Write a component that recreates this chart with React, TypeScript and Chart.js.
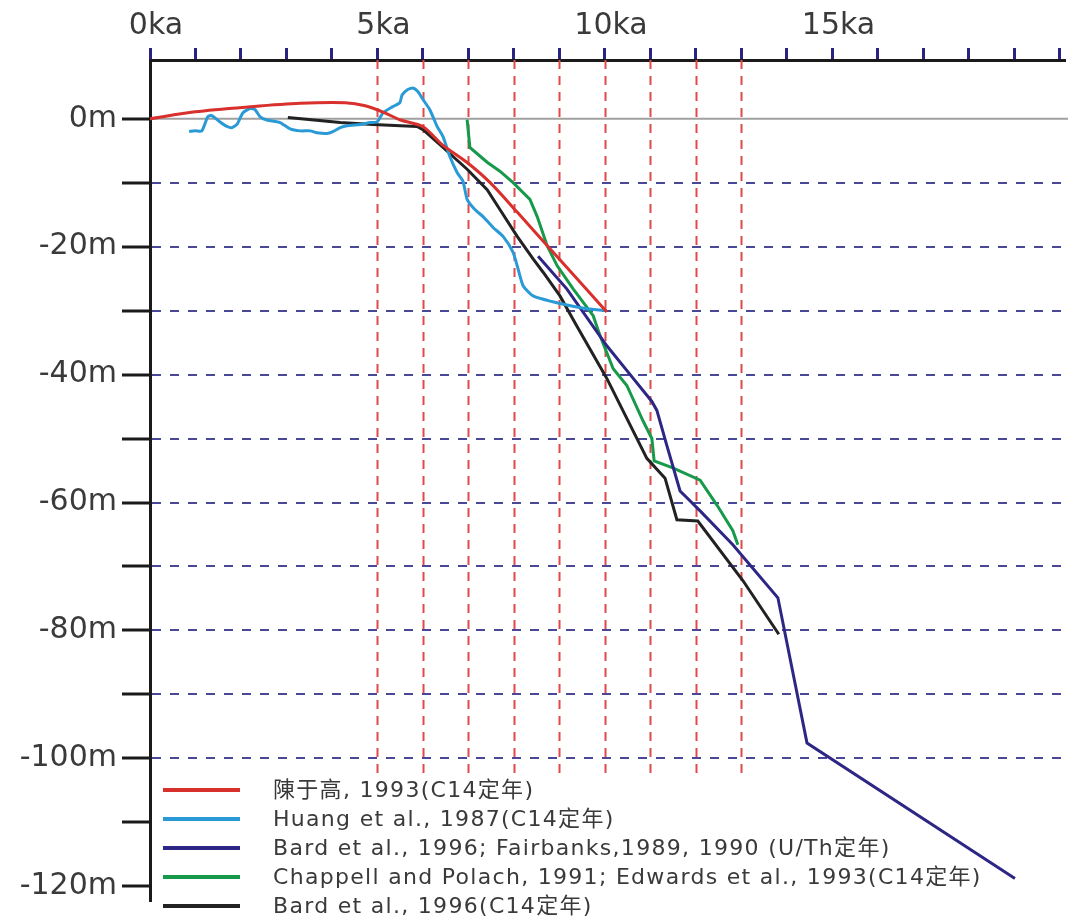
import React, { useEffect, useRef } from "react";
import { Chart, registerables } from "chart.js";

Chart.register(...registerables);

// ---- data (age in ka, sea level in m) ----
const chenKa = [0, 0.99, 2.2, 3.3, 4.29, 4.73, 5.16, 5.49, 6.0, 6.42, 6.97, 7.47, 8.07, 8.9, 10.04];
const chenM = [0, 1.09, 1.87, 2.41, 2.49, 2.02, 0.93, -0.16, -1.25, -4.05, -6.85, -9.96, -14.6, -21.2, -30.2];

const huangKa = [0.86, 0.99, 1.14, 1.27, 1.36, 1.54, 1.69, 1.8, 1.91, 2.04, 2.2, 2.31, 2.42, 2.57, 2.86, 3.08, 3.3, 3.52, 3.67, 3.89, 4.02, 4.18, 4.33, 4.62, 4.84, 4.99, 5.12, 5.34, 5.49, 5.54, 5.65, 5.78, 5.89, 6.0, 6.15, 6.31, 6.44, 6.59, 6.75, 6.88, 6.97, 7.14, 7.32, 7.54, 7.76, 7.98, 8.09, 8.2, 8.42, 9.01, 9.6, 10.04];
const huangM = [-2.0, -1.9, -1.9, 0.3, 0.5, -0.5, -1.2, -1.4, -0.9, 0.9, 1.6, 1.4, 0.3, -0.2, -0.6, -1.6, -1.9, -1.9, -2.2, -2.3, -2.0, -1.4, -1.1, -0.9, -0.6, -0.5, 0.9, 1.9, 2.5, 3.7, 4.5, 4.8, 4.2, 3.0, 1.4, -1.2, -2.8, -5.9, -8.4, -9.8, -12.6, -14.2, -15.3, -17.0, -18.4, -20.9, -23.5, -26.1, -27.7, -28.9, -29.7, -30.0];

const bardUThKa = [8.53, 9.16, 10.04, 10.62, 11.03, 11.14, 11.36, 11.65, 12.09, 12.81, 13.8, 14.44, 19.01];
const bardUThM = [-21.5, -26.6, -35.5, -40.6, -44.2, -45.6, -51.1, -58.2, -61.3, -66.6, -74.9, -97.6, -118.8];

const chappellKa = [6.97, 7.03, 7.41, 7.69, 7.98, 8.35, 8.51, 8.73, 8.95, 9.3, 9.74, 9.89, 10.18, 10.48, 10.84, 11.03, 11.08, 11.49, 12.09, 12.46, 12.81, 12.92];
const chappellM = [-0.15, -4.5, -6.8, -8.2, -10.0, -12.6, -15.3, -19.9, -23.0, -26.6, -30.8, -33.9, -39.1, -41.7, -47.3, -50.0, -53.5, -54.6, -56.5, -60.4, -64.4, -66.6];

const bardC14Ka = [3.03, 4.18, 4.9, 5.87, 6.0, 6.44, 6.97, 7.41, 7.69, 8.07, 8.42, 8.64, 9.01, 9.38, 10.04, 10.92, 11.32, 11.58, 12.04, 13.03, 13.82];
const bardC14M = [0.2, -0.6, -0.9, -1.2, -1.7, -4.5, -7.9, -11.1, -14.2, -18.4, -21.9, -24.0, -27.7, -32.4, -40.6, -53.1, -56.2, -62.7, -62.9, -72.2, -80.6];

const seriesLabels = [
  "陳于高, 1993(C14定年)",
  "Huang et al., 1987(C14定年)",
  "Bard et al., 1996; Fairbanks,1989, 1990 (U/Th定年)",
  "Chappell and Polach, 1991; Edwards et al., 1993(C14定年)",
  "Bard et al., 1996(C14定年)",
];
const seriesColors = ["#d8302c", "#2a9ad6", "#2d2685", "#17994a", "#222222"];

const xLabelKa = [0, 5, 10, 15];
const refLineKa = [5, 6, 7, 8, 9, 10, 11, 12, 13];
const refLineBottomM = -103;
const yMinorStep = 10;
const yLabelStep = 20;

const X_MIN = 0;
const X_MAX = 20.11;
const Y_MIN = -122.3;
const Y_MAX = 9.18;

const toPoints = (xs: number[], ys: number[]) => xs.map((x, i) => ({ x, y: ys[i] }));

const FONT = "'DejaVu Sans', 'Noto Sans CJK SC', sans-serif";
const TEXT_COLOR = "#3a3a3a";

const decorPlugin = {
  id: "decor",
  beforeDatasetsDraw(chart: any) {
    const { ctx, chartArea, scales } = chart;
    const x = scales.x;
    const y = scales.y;
    ctx.save();
    // zero line
    const y0 = y.getPixelForValue(0);
    ctx.strokeStyle = "#a0a0a0";
    ctx.lineWidth = 2;
    ctx.setLineDash([]);
    ctx.beginPath();
    ctx.moveTo(chartArea.left, y0);
    ctx.lineTo(chartArea.right + 3, y0);
    ctx.stroke();
    // red vertical dashed lines
    ctx.strokeStyle = "#e04a4a";
    ctx.lineWidth = 2;
    ctx.setLineDash([9, 7]);
    const yb = y.getPixelForValue(refLineBottomM);
    refLineKa.forEach((k) => {
      const px = Math.round(x.getPixelForValue(k)) + 0.5;
      ctx.beginPath();
      ctx.moveTo(px, chartArea.top);
      ctx.lineTo(px, yb);
      ctx.stroke();
    });
    ctx.restore();
  },
  afterDraw(chart: any) {
    const { ctx } = chart;
    ctx.save();
    const startY = 790;
    const stepY = 29;
    chart.data.datasets.forEach((ds: any, i: number) => {
      const yy = startY + i * stepY;
      ctx.strokeStyle = ds.borderColor;
      ctx.lineWidth = 4;
      ctx.setLineDash([]);
      ctx.beginPath();
      ctx.moveTo(163, yy);
      ctx.lineTo(240, yy);
      ctx.stroke();
      ctx.fillStyle = TEXT_COLOR;
      ctx.font = `22px ${FONT}`;
      try {
        (ctx as any).letterSpacing = "1.3px";
      } catch (e) {}
      ctx.textBaseline = "middle";
      ctx.textAlign = "left";
      ctx.fillText(ds.label, 273, yy + 1);
    });
    ctx.restore();
  },
};

export default function App() {
  const canvasRef = useRef<HTMLCanvasElement | null>(null);

  useEffect(() => {
    if (!canvasRef.current) return;
    const seriesKa = [chenKa, huangKa, bardUThKa, chappellKa, bardC14Ka];
    const seriesM = [chenM, huangM, bardUThM, chappellM, bardC14M];
    const tensions = [0.3, 0.2, 0, 0, 0];
    const chart = new Chart(canvasRef.current, {
      type: "line",
      data: {
        datasets: seriesLabels.map((label, i) => ({
          label,
          data: toPoints(seriesKa[i], seriesM[i]),
          borderColor: seriesColors[i],
          backgroundColor: seriesColors[i],
          borderWidth: 3,
          pointRadius: 0,
          tension: tensions[i],
          fill: false,
        })),
      },
      options: {
        responsive: false,
        animation: false,
        devicePixelRatio: 1,
        layout: { padding: { left: 0, top: 0, right: 9, bottom: 19 } },
        plugins: {
          legend: { display: false },
          tooltip: { enabled: false },
        },
        scales: {
          x: {
            type: "linear",
            position: "top",
            min: X_MIN,
            max: X_MAX,
            afterFit: (s: any) => {
              s.height = 60;
            },
            border: { display: true, color: "#1a1a1a", width: 3 },
            grid: {
              drawOnChartArea: false,
              drawTicks: true,
              tickLength: 12,
              tickColor: "#2b2380",
              tickWidth: 3,
            },
            ticks: {
              stepSize: 1,
              autoSkip: false,
              includeBounds: false,
              maxRotation: 0,
              padding: 4,
              labelOffset: 6,
              color: TEXT_COLOR,
              font: { family: FONT, size: 30 },
              callback: (v: any) => (xLabelKa.includes(Number(v)) ? `${v}ka` : ""),
            },
          },
          y: {
            type: "linear",
            min: Y_MIN,
            max: Y_MAX,
            afterFit: (s: any) => {
              s.width = 150;
            },
            border: { display: true, color: "#1a1a1a", width: 3, dash: [9, 9] },
            grid: {
              drawOnChartArea: true,
              drawTicks: true,
              tickLength: 28,
              tickWidth: 3,
              tickBorderDash: [],
              lineWidth: 2,
              color: (ctx: any) => {
                const v = ctx.tick ? ctx.tick.value : 0;
                return v <= -10 && v >= -100 ? "#4a4797" : "rgba(0,0,0,0)";
              },
              tickColor: "#1a1a1a",
            },
            ticks: {
              stepSize: yMinorStep,
              autoSkip: false,
              includeBounds: false,
              padding: 5,
              color: TEXT_COLOR,
              font: { family: FONT, size: 30 },
              callback: (v: any) => (Number(v) % yLabelStep === 0 ? `${v}m` : ""),
            },
          },
        },
      },
      plugins: [decorPlugin],
    });
    return () => chart.destroy();
  }, []);

  return (
    <div style={{ position: "absolute", left: 0, top: 0, width: 1074, height: 924, background: "#fff" }}>
      <canvas ref={canvasRef} width={1074} height={924} style={{ display: "block" }} />
    </div>
  );
}
